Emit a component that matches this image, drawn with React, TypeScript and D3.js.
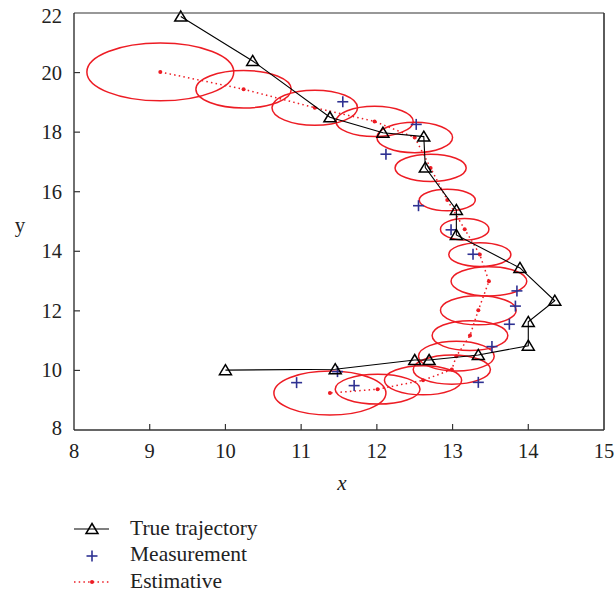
import React from "react";
import * as d3 from "d3";

// True trajectory
const trueX = [9.41, 10.36, 11.38, 12.08, 12.62, 12.64, 13.05, 13.05, 13.89, 14.35, 14.0, 14.0, 13.34, 12.69, 12.5, 11.45, 10.0];
const trueY = [21.88, 20.39, 18.5, 17.98, 17.85, 16.81, 15.39, 14.55, 13.44, 12.34, 11.63, 10.83, 10.52, 10.35, 10.35, 10.04, 10.01];

// Measurements
const measX = [11.55, 12.52, 12.12, 12.55, 12.98, 13.27, 13.85, 13.83, 13.75, 13.52, 13.34, 11.7, 10.94, 11.48];
const measY = [19.02, 18.26, 17.26, 15.53, 14.72, 13.9, 12.67, 12.16, 11.55, 10.8, 9.6, 9.49, 9.59, 9.96];

// Estimates and their uncertainty ellipse radii (data units)
const estX = [9.14, 10.24, 11.18, 11.97, 12.5, 12.71, 12.93, 13.16, 13.36, 13.48, 13.34, 13.23, 13.05, 12.99, 12.61, 12.01, 11.38];
const estY = [20.02, 19.44, 18.82, 18.36, 17.82, 16.8, 15.72, 14.74, 13.89, 12.99, 12.02, 11.17, 10.48, 10.03, 9.67, 9.37, 9.24];
const estRx = [0.97, 0.63, 0.565, 0.51, 0.5, 0.47, 0.37, 0.32, 0.41, 0.5, 0.5, 0.5, 0.5, 0.51, 0.51, 0.56, 0.74];
const estRy = [0.97, 0.63, 0.59, 0.51, 0.51, 0.46, 0.36, 0.36, 0.4, 0.49, 0.49, 0.5, 0.5, 0.49, 0.49, 0.5, 0.74];

const xTicks = [8, 9, 10, 11, 12, 13, 14, 15];
const yTicks = [8, 10, 12, 14, 16, 18, 20, 22];

const legendLabels = ["True trajectory", "Measurement", "Estimative"];

const W = 614;
const H = 592;
const FONT = "'Liberation Serif', 'Times New Roman', serif";
const RED = "#ed1c24";
const NAVY = "#2e3192";

const tri = (cx: number, cy: number) =>
  `M${cx},${cy - 5.5} L${cx + 6},${cy + 4.5} L${cx - 6},${cy + 4.5} Z`;

const Plus = ({ cx, cy }: { cx: number; cy: number }) => (
  <g stroke={NAVY} strokeWidth={1.6}>
    <line x1={cx - 5.5} x2={cx + 5.5} y1={cy} y2={cy} />
    <line x1={cx} x2={cx} y1={cy - 5.5} y2={cy + 5.5} />
  </g>
);

export default function App() {
  const x = d3.scaleLinear().domain([8, 15]).range([74, 604]);
  const y = d3.scaleLinear().domain([8, 22]).range([430, 13]);

  const trueLine = d3
    .line<number>()
    .x((_, i) => x(trueX[i]))
    .y((_, i) => y(trueY[i]))(trueX.map((_, i) => i)) as string;
  const estLine = d3
    .line<number>()
    .x((_, i) => x(estX[i]))
    .y((_, i) => y(estY[i]))(estX.map((_, i) => i)) as string;

  const x0 = x(8), x1 = x(15), y0 = y(8), y1 = y(22);

  return (
    <svg
      width={W}
      height={H}
      style={{ position: "absolute", left: 0, top: 0, background: "#fff" }}
      fontFamily={FONT}
    >
      <rect width={W} height={H} fill="#fff" />
      {/* ellipses */}
      {estX.map((v, i) => (
        <ellipse
          key={"e" + i}
          cx={x(v)}
          cy={y(estY[i])}
          rx={x(8 + estRx[i]) - x(8)}
          ry={y(8) - y(8 + estRy[i])}
          fill="none"
          stroke={RED}
          strokeWidth={1.5}
        />
      ))}
      {/* estimate path */}
      <path d={estLine} fill="none" stroke={RED} strokeWidth={1.5} strokeDasharray="1.5 3.2" />
      {estX.map((v, i) => (
        <circle key={"d" + i} cx={x(v)} cy={y(estY[i])} r={2} fill={RED} />
      ))}
      {/* measurements */}
      {measX.map((v, i) => (
        <Plus key={"m" + i} cx={x(v)} cy={y(measY[i])} />
      ))}
      {/* true trajectory */}
      <path d={trueLine} fill="none" stroke="#000" strokeWidth={1.1} />
      {trueX.map((v, i) => (
        <path key={"t" + i} d={tri(x(v), y(trueY[i]))} fill="none" stroke="#000" strokeWidth={1.5} />
      ))}

      {/* frame */}
      <line x1={x0} x2={x1} y1={y1} y2={y1} stroke="#333" strokeWidth={1.2} />
      <line x1={x1} x2={x1} y1={y1} y2={y0} stroke="#333" strokeWidth={1.6} />
      <line x1={x0} x2={x1} y1={y0} y2={y0} stroke="#333" strokeWidth={1.6} />
      <line x1={x0} x2={x0} y1={y1} y2={y0} stroke="#222" strokeWidth={1.3} />

      {/* x ticks */}
      {xTicks.map((t) => (
        <g key={"xt" + t}>
          {t > 8 && t < 15 && (
            <line x1={x(t)} x2={x(t)} y1={y0} y2={y0 - 6} stroke="#333" strokeWidth={1.2} />
          )}
          <text x={x(t)} y={458} textAnchor="middle" fontSize={20.5} fill="#222">
            {t}
          </text>
        </g>
      ))}
      {/* y ticks */}
      {yTicks.map((t) => (
        <g key={"yt" + t}>
          {t > 8 && t < 22 && (
            <line x1={x0} x2={x0 + 6} y1={y(t)} y2={y(t)} stroke="#333" strokeWidth={1.2} />
          )}
          <text
            x={62}
            y={t === 22 ? y(t) + 10 : t === 8 ? y(t) + 5 : y(t) + 7}
            textAnchor="end"
            fontSize={20.5}
            fill="#222"
          >
            {t}
          </text>
        </g>
      ))}

      {/* axis labels */}
      <text x={342} y={490} textAnchor="middle" fontSize={21} fontStyle="italic" fill="#222">
        x
      </text>
      <text x={20} y={232} textAnchor="middle" fontSize={21} fill="#222">
        y
      </text>

      {/* legend */}
      <g>
        <line x1={74} x2={109} y1={529} y2={529} stroke="#000" strokeWidth={1.1} />
        <path d={tri(92, 529)} fill="none" stroke="#000" strokeWidth={1.5} />
        <text x={130} y={534.5} fontSize={21.5} fill="#222">
          {legendLabels[0]}
        </text>
        <Plus cx={92} cy={556} />
        <text x={130} y={560.5} fontSize={21.5} fill="#222">
          {legendLabels[1]}
        </text>
        <line x1={74} x2={109} y1={582} y2={582} stroke={RED} strokeWidth={1.4} strokeDasharray="1.5 3.2" />
        <circle cx={92} cy={582} r={2} fill={RED} />
        <text x={130} y={587.5} fontSize={21.5} fill="#222">
          {legendLabels[2]}
        </text>
      </g>
    </svg>
  );
}
